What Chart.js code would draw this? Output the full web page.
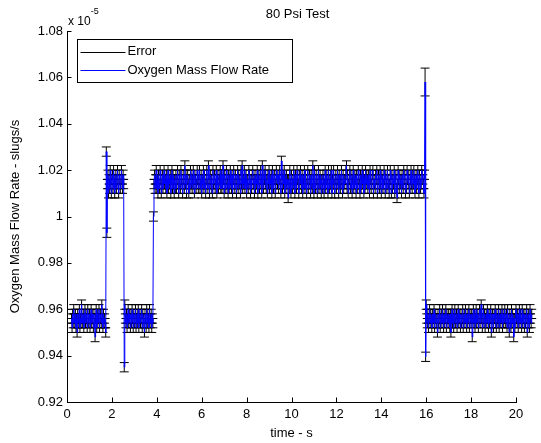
<!DOCTYPE html>
<html>
<head>
<meta charset="utf-8">
<title>80 Psi Test</title>
<script src="https://cdn.jsdelivr.net/npm/chart.js@4.4.1/dist/chart.umd.min.js"></script>
<style>
  html, body { margin: 0; padding: 0; background: #fff; }
  #wrap { width: 541px; height: 443px; }
</style>
</head>
<body>
<div id="wrap"><canvas id="flowChart" width="541" height="443"></canvas></div>
<script>
// logger time base (s)
const sampleStart = 0.2;
const sampleStep = 0.025;

// oxygen mass flow rate, x 10^-5 slugs/s, one list per plateau
const flowLow1 = [
  0.956,0.952,0.958,0.954,0.960,0.956,0.954,0.958,0.952,0.956,0.950,0.958,0.954,0.956,0.960,0.952,0.956,0.954,0.962,0.956,
  0.954,0.958,0.952,0.956,0.960,0.954,0.958,0.956,0.952,0.960,0.954,0.956,0.958,0.952,0.956,0.960,0.954,0.958,0.956,0.952,
  0.958,0.954,0.948,0.956,0.960,0.952,0.958,0.954,0.956,0.960,0.952,0.956,0.958,0.954,0.962,0.956,0.952,0.958,0.954,0.956,
  0.954,0.950,
  1.028,0.993
];
const flowHigh1 = [
  1.014,1.018,1.010,1.016,1.012,1.020,1.014,1.010,1.016,1.018,
  1.012,1.020,1.016,1.010,1.014,1.018,1.012,1.016,1.020,1.014,
  1.010,1.018,1.016,1.012,1.014,1.020,1.016,1.012,1.018,1.014,
  0.935,0.962
];
const flowLow2 = [
  0.956,0.954,0.958,0.952,0.956,0.960,0.954,0.958,0.956,0.952,0.958,0.954,0.960,0.956,0.952,0.958,0.954,0.956,0.960,0.952,
  0.956,0.958,0.954,0.960,0.952,0.956,0.958,0.954,0.956,0.960,0.952,0.958,0.956,0.954,0.950,0.958,0.956,0.952,0.960,0.954,
  0.958,0.956,0.952,0.960,0.954,0.956,0.958,0.952,0.956,0.954,
  1.000
];
const flowHigh2 = [
  1.014,1.018,1.012,1.016,1.020,1.012,1.016,1.010,1.018,1.014,1.012,1.020,1.016,1.010,1.014,1.018,1.012,1.016,1.020,1.014,
  1.016,1.012,1.018,1.010,1.014,1.020,1.012,1.016,1.014,1.018,1.010,1.016,1.020,1.012,1.018,1.014,1.010,1.016,1.012,1.018,
  1.012,1.016,1.020,1.014,1.010,1.018,1.014,1.012,1.020,1.016,1.014,1.010,1.018,1.016,1.012,1.022,1.014,1.018,1.010,1.016,
  1.018,1.014,1.010,1.016,1.012,1.020,1.018,1.014,1.012,1.016,1.020,1.014,1.010,1.018,1.016,1.012,1.014,1.020,1.016,1.012,
  1.016,1.020,1.012,1.014,1.018,1.010,1.016,1.014,1.020,1.012,1.018,1.014,1.010,1.016,1.020,1.014,1.012,1.022,1.016,1.010,
  1.014,1.018,1.016,1.012,1.010,1.020,1.014,1.016,1.018,1.012,1.014,1.020,1.010,1.016,1.018,1.012,1.014,1.016,1.020,1.012,
  1.018,1.012,1.014,1.022,1.016,1.010,1.018,1.014,1.012,1.020,1.016,1.014,1.010,1.018,1.012,1.016,1.020,1.014,1.012,1.018,
  1.010,1.016,1.020,1.014,1.012,1.018,1.016,1.010,1.014,1.020,1.012,1.018,1.014,1.016,1.010,1.020,1.014,1.022,1.012,1.016,
  1.014,1.020,1.012,1.016,1.018,1.010,1.014,1.016,1.012,1.020,1.018,1.014,1.010,1.016,1.012,1.018,1.020,1.014,1.016,1.010,
  1.018,1.012,1.016,1.014,1.020,1.010,1.016,1.018,1.012,1.014,1.020,1.016,1.010,1.022,1.014,1.012,1.018,1.016,1.020,1.014,
  1.012,1.016,1.010,1.018,1.014,1.020,1.012,1.016,1.014,1.018,1.010,1.020,1.014,1.012,1.016,1.018,1.010,1.014,1.020,1.016,
  1.014,1.018,1.012,1.016,1.020,1.014,1.010,1.024,1.016,1.012,1.018,1.014,1.020,1.010,1.016,1.012,1.018,1.014,1.016,1.008,
  1.016,1.012,1.020,1.014,1.010,1.018,1.016,1.012,1.014,1.020,1.016,1.010,1.018,1.014,1.012,1.020,1.016,1.014,1.010,1.018,
  1.014,1.020,1.016,1.012,1.018,1.010,1.014,1.016,1.020,1.012,1.018,1.014,1.010,1.016,1.020,1.012,1.014,1.018,1.016,1.010,
  1.018,1.014,1.012,1.022,1.016,1.010,1.020,1.014,1.012,1.018,1.016,1.010,1.014,1.020,1.012,1.016,1.018,1.014,1.010,1.016,
  1.012,1.018,1.016,1.010,1.014,1.020,1.012,1.016,1.018,1.014,1.010,1.020,1.016,1.012,1.014,1.018,1.020,1.010,1.016,1.014,
  1.020,1.014,1.010,1.016,1.018,1.012,1.014,1.020,1.016,1.010,1.018,1.014,1.012,1.016,1.020,1.014,1.010,1.018,1.012,1.016,
  1.014,1.016,1.020,1.022,1.012,1.018,1.010,1.014,1.016,1.020,1.012,1.018,1.014,1.010,1.016,1.020,1.012,1.014,1.018,1.016,
  1.010,1.018,1.014,1.012,1.020,1.016,1.014,1.010,1.018,1.012,1.016,1.020,1.014,1.018,1.010,1.016,1.012,1.020,1.014,1.018,
  1.016,1.012,1.018,1.014,1.010,1.020,1.016,1.012,1.014,1.018,1.020,1.010,1.016,1.014,1.012,1.018,1.016,1.020,1.010,1.014,
  1.018,1.016,1.012,1.020,1.014,1.010,1.018,1.016,1.012,1.014,1.020,1.016,1.010,1.018,1.014,1.012,1.020,1.016,1.014,1.010,
  1.014,1.020,1.016,1.010,1.018,1.012,1.016,1.014,1.020,1.010,1.016,1.018,1.012,1.008,1.014,1.020,1.016,1.012,1.018,1.014,
  1.016,1.010,1.018,1.014,1.012,1.020,1.016,1.018,1.010,1.014,1.012,1.020,1.016,1.014,1.018,1.010,1.012,1.016,1.020,1.014,
  1.012,1.018,1.014,1.020,1.016,1.010,1.014,1.018,1.012,1.016,1.020,1.014,1.010,1.018,1.016,1.012,1.014,1.020,1.018,1.016,
  1.014,1.010,1.018,
  1.058,0.9395,0.962
];
const flowLow3 = [
  0.956,0.954,0.958,0.952,0.956,0.960,0.954,0.958,0.956,0.952,0.958,0.954,0.956,0.960,0.952,0.956,0.958,0.954,0.956,0.950,
  0.958,0.954,0.956,0.960,0.952,0.956,0.958,0.954,0.960,0.956,0.952,0.958,0.954,0.956,0.960,0.952,0.958,0.956,0.954,0.958,
  0.956,0.952,0.958,0.950,0.956,0.960,0.954,0.958,0.952,0.956,0.960,0.954,0.956,0.958,0.952,0.956,0.960,0.954,0.958,0.956,
  0.952,0.958,0.954,0.956,0.960,0.952,0.956,0.958,0.954,0.960,0.956,0.952,0.958,0.954,0.956,0.960,0.952,0.958,0.956,0.954,
  0.958,0.948,0.956,0.960,0.954,0.958,0.952,0.956,0.960,0.954,0.956,0.958,0.952,0.956,0.960,0.954,0.958,0.962,0.956,0.952,
  0.956,0.960,0.954,0.958,0.952,0.956,0.958,0.954,0.960,0.956,0.952,0.958,0.954,0.956,0.960,0.950,0.956,0.958,0.954,0.952,
  0.958,0.956,0.960,0.954,0.952,0.958,0.956,0.954,0.960,0.952,0.956,0.958,0.954,0.956,0.960,0.952,0.958,0.954,0.956,0.960,
  0.954,0.956,0.958,0.952,0.960,0.956,0.954,0.950,0.958,0.956,0.952,0.960,0.954,0.958,0.956,0.948,0.956,0.952,0.958,0.960,
  0.956,0.954,0.958,0.952,0.956,0.960,0.954,0.958,0.956,0.952,0.960,0.954,0.958,0.956,0.952,0.958,0.954,0.956,0.960,0.950,
  0.956,0.958,0.954,0.952,0.960,0.956,0.954,0.958
];

// measurement error (same units); the spike sample carries a wider band
const flowErr = 0.002;
const flowErrSpikes = { 630: 0.006 };

const xTickValues = [0, 2, 4, 6, 8, 10, 12, 14, 16, 18, 20];
const yTickValues = [0.92, 0.94, 0.96, 0.98, 1.00, 1.02, 1.04, 1.06, 1.08];
const yTickLabels = ['0.92', '0.94', '0.96', '0.98', '1', '1.02', '1.04', '1.06', '1.08'];

const flow = [].concat(flowLow1, flowHigh1, flowLow2, flowHigh2, flowLow3);
const time = flow.map((_, i) => +(sampleStart + i * sampleStep).toFixed(3));
const points = flow.map((v, i) => ({ x: time[i], y: v }));
const errAt = i => (flowErrSpikes[i] !== undefined ? flowErrSpikes[i] : flowErr);

const FONT = 'Liberation Sans, Arial, Helvetica, sans-serif';
const tee = 0.2;   // half width of the error bar caps, in seconds

const matlabLook = {
  id: 'matlabLook',
  beforeDatasetsDraw(chart) {
    const { ctx, scales: { x, y } } = chart;
    ctx.save();
    ctx.strokeStyle = '#000';
    ctx.lineWidth = 1;
    ctx.beginPath();
    points.forEach((p, i) => {
      const e = errAt(i);
      const px = x.getPixelForValue(p.x);
      const l = x.getPixelForValue(p.x - tee);
      const r = x.getPixelForValue(p.x + tee);
      const hi = y.getPixelForValue(p.y + e);
      const lo = y.getPixelForValue(p.y - e);
      ctx.moveTo(px, hi); ctx.lineTo(px, lo);
      ctx.moveTo(l, hi); ctx.lineTo(r, hi);
      ctx.moveTo(l, lo); ctx.lineTo(r, lo);
    });
    ctx.stroke();
    ctx.restore();
  },
  afterDraw(chart) {
    const { ctx, chartArea: area, scales: { x, y } } = chart;
    ctx.save();

    // inward tick marks
    ctx.strokeStyle = '#000';
    ctx.lineWidth = 1;
    ctx.beginPath();
    xTickValues.forEach(v => {
      const px = Math.round(x.getPixelForValue(v)) + 0.5;
      ctx.moveTo(px, area.bottom);
      ctx.lineTo(px, area.bottom - 4.5);
    });
    yTickValues.forEach(v => {
      const py = Math.round(y.getPixelForValue(v)) + 0.5;
      ctx.moveTo(area.left, py);
      ctx.lineTo(area.left + 4.5, py);
    });
    ctx.stroke();

    // title
    ctx.fillStyle = '#000';
    ctx.font = '13px ' + FONT;
    ctx.textAlign = 'center';
    ctx.textBaseline = 'middle';
    ctx.fillText('80 Psi Test', (area.left + area.right) / 2 + 6, 14);

    // axis exponent
    ctx.textAlign = 'left';
    ctx.font = '12px ' + FONT;
    ctx.fillText('x 10', area.left + 1, 22);
    const w = ctx.measureText('x 10').width;
    ctx.font = '9px ' + FONT;
    ctx.fillText('-5', area.left + 1 + w, 12);

    // legend
    const bx = area.left + 10.5, by = area.top + 8.5;
    ctx.fillStyle = '#fff';
    ctx.fillRect(bx, by, 215, 43);
    ctx.strokeStyle = '#000';
    ctx.strokeRect(bx, by, 215, 43);
    const rows = [['Error', '#000'], ['Oxygen Mass Flow Rate', '#0000ff']];
    ctx.font = '13px ' + FONT;
    ctx.textBaseline = 'middle';
    rows.forEach(([label, color], k) => {
      const ly = by + 12 + k * 18.6;
      ctx.strokeStyle = color;
      ctx.beginPath();
      ctx.moveTo(bx + 3, Math.round(ly) + 0.5);
      ctx.lineTo(bx + 48, Math.round(ly) + 0.5);
      ctx.stroke();
      ctx.fillStyle = '#000';
      ctx.fillText(label, bx + 50, ly);
    });
    ctx.restore();
  }
};

new Chart(document.getElementById('flowChart').getContext('2d'), {
  type: 'line',
  data: {
    datasets: [{
      label: 'Oxygen Mass Flow Rate',
      data: points,
      borderColor: '#0000ff',
      borderWidth: 1,
      pointRadius: 0,
      tension: 0,
      fill: false,
      clip: false
    }]
  },
  options: {
    responsive: false,
    animation: false,
    events: [],
    layout: { padding: { top: 31, right: 25, left: 0, bottom: 0 } },
    plugins: {
      legend: { display: false },
      title: { display: false },
      tooltip: { enabled: false }
    },
    scales: {
      x: {
        type: 'linear',
        afterDataLimits: s => { s.min = 0; s.max = 20; },
        afterBuildTicks: s => { s.ticks = xTickValues.map(v => ({ value: v })); },
        afterFit: s => { s.height = 41; },
        grid: { display: false, drawTicks: false },
        border: { display: true, color: '#000', width: 1 },
        ticks: { padding: 5, color: '#000', font: { family: FONT, size: 13 }, maxRotation: 0 },
        title: { display: true, text: 'time - s', color: '#000', font: { family: FONT, size: 13 }, padding: { top: 0, bottom: 2 } }
      },
      y: {
        min: 0.92,
        max: 1.08,
        afterBuildTicks: s => { s.ticks = yTickValues.map(v => ({ value: v })); },
        afterFit: s => { s.width = 67; },
        grid: { display: false, drawTicks: false },
        border: { display: true, color: '#000', width: 1 },
        ticks: {
          padding: 4,
          color: '#000',
          font: { family: FONT, size: 13 },
          callback: (v, i) => yTickLabels[i]
        },
        title: { display: true, text: 'Oxygen Mass Flow Rate - slugs/s', color: '#000', font: { family: FONT, size: 13 }, padding: { top: 8, bottom: 0 } }
      }
    }
  },
  plugins: [matlabLook]
});
</script>
</body>
</html>
